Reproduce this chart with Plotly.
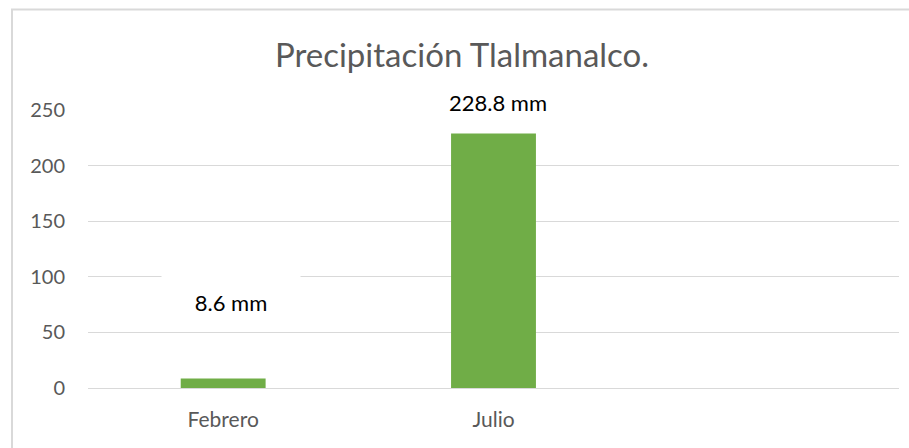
import plotly.graph_objects as go

categories = ["Febrero", "Julio", " "]
values = [8.6, 228.8, None]
label_texts = ["8.6 mm", "228.8 mm", ""]
y_ticks = [0, 50, 100, 150, 200, 250]
title_text = "Precipitación Tlalmanalco."

FONT = "Lato"
GREY = "#595959"
GRID = "#D9D9D9"

fig = go.Figure()
fig.add_trace(go.Bar(
    x=categories, y=values,
    marker=dict(color="#70AD47", line=dict(width=0)),
    hoverinfo="skip",
))

# data labels (manually positioned in the original, with white boxes)
label_style = [
    dict(xshift=8, yshift=85, width=136, height=46, valign="bottom"),
    dict(xshift=4, yshift=32, width=154, height=26, valign="middle"),
]
annotations = []
for i, st in enumerate(label_style):
    annotations.append(dict(
        x=categories[i], y=values[i], xref="x", yref="y",
        text=label_texts[i], showarrow=False,
        font=dict(family=FONT, size=22, color="#000000"),
        bgcolor="white", width=st["width"], height=st["height"],
        valign=st["valign"],
        xshift=st["xshift"], yshift=st["yshift"],
    ))

fig.update_layout(
    width=909, height=448,
    margin=dict(l=88, r=10, t=110, b=60),
    paper_bgcolor="white", plot_bgcolor="white",
    showlegend=False,
    bargap=0.686,
    title=dict(text=title_text, x=462 / 909, xanchor="center",
               y=1 - 55 / 448, yanchor="middle", yref="container",
               font=dict(family=FONT, size=33, color=GREY)),
    annotations=annotations,
    shapes=[dict(type="rect", xref="paper", yref="paper",
                 x0=(12 - 88) / 811, x1=(915 - 88) / 811,
                 y0=(388 - 460) / 278, y1=(388 - 9.5) / 278,
                 line=dict(color=GRID, width=2), fillcolor="rgba(0,0,0,0)",
                 layer="below")],
)
fig.update_xaxes(
    range=[-0.5, 2.5], showgrid=False, showline=False, zeroline=False,
    tickfont=dict(family=FONT, size=21, color=GREY), ticks="",
    ticklabelstandoff=17,
)
fig.update_yaxes(
    range=[0, 250], tickvals=y_ticks, showgrid=True, gridcolor=GRID, gridwidth=1,
    zeroline=True, zerolinecolor=GRID, zerolinewidth=1, showline=False,
    tickfont=dict(family=FONT, size=20, color=GREY), ticks="",
    ticklabelstandoff=22,
)

fig.write_html("out.html", config={"displayModeBar": False},
               post_script="document.body.style.margin='0px';")
